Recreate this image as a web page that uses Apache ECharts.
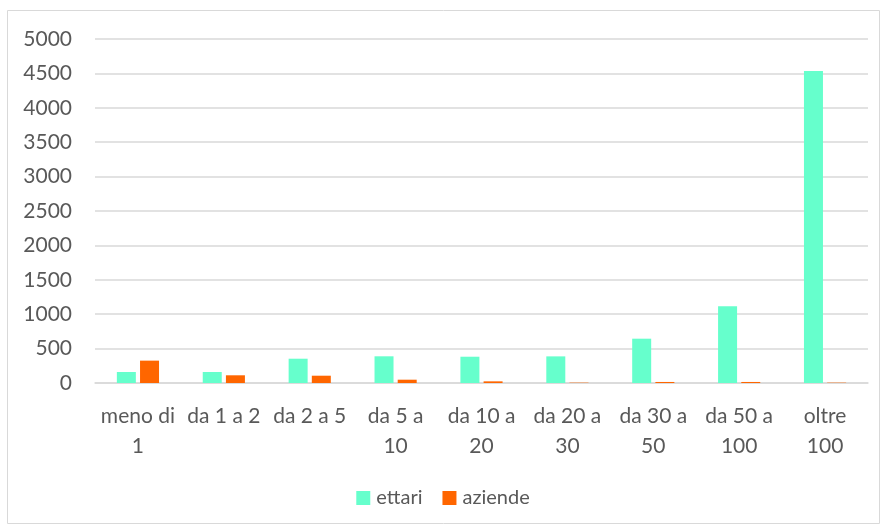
<!DOCTYPE html>
<html><head><meta charset="utf-8">
<script src="https://cdn.jsdelivr.net/npm/echarts@6/dist/echarts.min.js"></script>
<style>html,body{margin:0;padding:0;background:#fff}#c{width:886px;height:529px}</style>
</head><body><div id="c"></div>
<script>
var categories = ['meno di\n1','da 1 a 2','da 2 a 5','da 5 a\n10','da 10 a\n20','da 20 a\n30','da 30 a\n50','da 50 a\n100','oltre\n100'];
var ettari = [160, 160, 353, 388, 382, 387, 644, 1114, 4535];
var aziende = [325, 112, 106, 48, 24, 5, 15, 15, 5];
var yTicks = [0, 500, 1000, 1500, 2000, 2500, 3000, 3500, 4000, 4500, 5000];

var chart = echarts.init(document.getElementById('c'), null, {renderer:'canvas'});
var font = 'Lato, "Open Sans", sans-serif';
chart.setOption({
  animation:false,
  graphic:[{type:'rect', shape:{x:7.5,y:10.5,width:872,height:513}, style:{fill:'none', stroke:'#d9d9d9', lineWidth:1}, silent:true}],
  grid:{left:95, right:18, top:39, bottom:146, containLabel:false},
  legend:{top:483, left:'center', itemWidth:14, itemHeight:14, itemGap:20, icon:'rect',
    textStyle:{fontFamily:font, fontSize:20, color:'#595959', padding:[0,0,0,1]}, data:['ettari','aziende']},
  xAxis:{type:'category', data:categories,
    axisLine:{lineStyle:{color:'#d9d9d9', width:1.5}}, axisTick:{show:false},
    axisLabel:{fontFamily:font, fontSize:21, color:'#595959', margin:18, lineHeight:30, interval:0}},
  yAxis:{type:'value', min:yTicks[0], max:yTicks[yTicks.length-1], interval:500,
    axisLine:{show:false}, axisTick:{show:false},
    splitLine:{lineStyle:{color:'#d9d9d9', width:1.5}},
    axisLabel:{fontFamily:font, fontSize:21, color:'#595959', margin:23,
      formatter:function(v){return String(v);}}},
  series:[
    {name:'ettari', type:'bar', data:ettari, barWidth:19, barGap:'22%', itemStyle:{color:'#66ffcc'}},
    {name:'aziende', type:'bar', data:aziende, barWidth:19, itemStyle:{color:'#ff6600'}}
  ]
});
</script></body></html>
